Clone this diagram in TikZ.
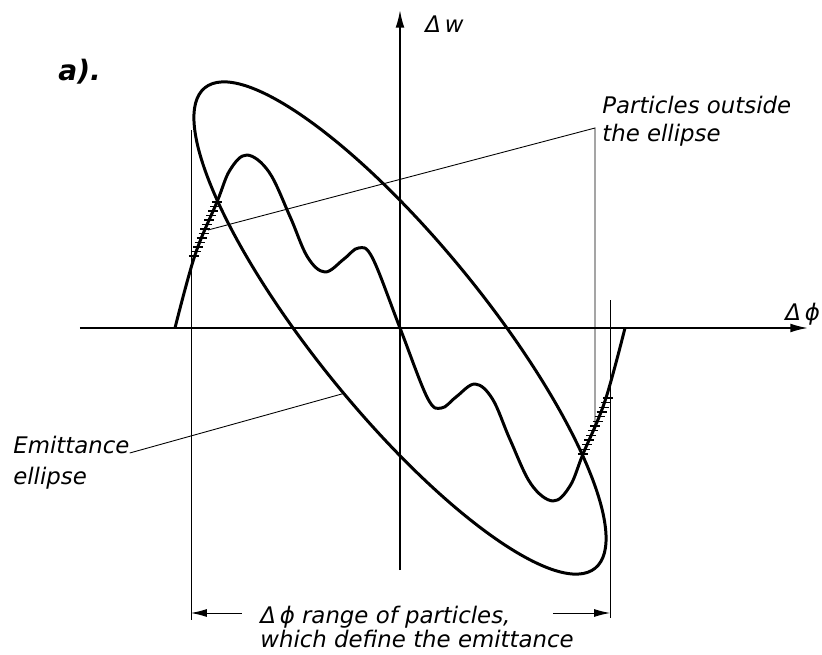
\documentclass[tikz,border=0pt]{standalone}
\usepackage{fontspec}
\setmainfont{DejaVu Sans}
\usepackage{tikz}
\usetikzlibrary{arrows.meta,calc}

\tikzset{
    lbl/.style={font=\fontsize{13}{16}\selectfont\itshape, inner sep=0pt, anchor=base west},
    axis/.style={line width=1pt, -{Latex[length=10pt,width=5pt]}},
    curve/.style={line width=1.7pt, line join=round},
    leader/.style={line width=0.5pt},
    guide/.style={line width=0.4pt},
    hatch/.style={line width=0.6pt},
    rangearrow/.style={line width=0.5pt, -{Latex[length=9pt,width=4.5pt]}},
}

\begin{document}
\begin{tikzpicture}
    \useasboundingbox (-8,-6.54) rectangle (8.44,6.56);

    % ================= AXES =================
    \draw[axis] (-6.4,0) -- (8.16,0);
    \draw[axis] (0,-4.84) -- (0,6.36);

    \node[lbl] (dphi) at (7.7,0.16) {Δ\,ϕ};
    \node[lbl] (dw) at (0.5,5.92) {Δ\,w};
    \node[lbl, font=\fontsize{16}{18}\selectfont\bfseries\itshape] (panel) at (-6.84,4.96) {a).};

    % ================= ELLIPSE AND PARTICLES =================
    \draw[curve, rotate=-50.9] (0,0) ellipse (6.19 and 1.70);

    \draw[curve] plot[smooth, tension=0.6] coordinates {
        (-4.5,0) (-4.1,1.46) (-3.66,2.52) (-3.4,3.16) (-3.06,3.46)
        (-2.62,3.12) (-2.2,2.23) (-1.85,1.42) (-1.5,1.12) (-1.12,1.38)
        (-0.83,1.6) (-0.55,1.4) (0,0)
        (0.55,-1.4) (0.83,-1.6) (1.12,-1.38) (1.5,-1.12) (1.85,-1.42)
        (2.2,-2.23) (2.62,-3.12) (3.06,-3.46) (3.4,-3.16)
        (3.66,-2.52) (4.1,-1.46) (4.5,0)};

    % hatching outside the ellipse
    \coordinate (hl1) at (-3.66,2.52);
    \coordinate (hl2) at (-4.12,1.44);
    \coordinate (hr1) at (3.66,-2.52);
    \coordinate (hr2) at (4.16,-1.40);
    \foreach \i in {0,...,12} {
        \draw[hatch] ($(hl1)!\i/12!(hl2)$) ++(-0.1,0) -- ++(0.2,0);
        \draw[hatch] ($(hr1)!\i/12!(hr2)$) ++(-0.1,0) -- ++(0.2,0);
    }

    % ================= LABELS =================
    \node[lbl] (part1) at (4.04,4.3) {Particles outside};
    \node[lbl] (part2) at (4.04,3.74) {the ellipse};
    \coordinate (pcorner) at (3.9,4.0);
    \coordinate (pleft) at (-3.84,1.96);
    \coordinate (pright) at (3.9,-2.04);
    \draw[leader] (pleft) -- (pcorner) -- (pright);

    \node[lbl] (emit1) at (-7.74,-2.5) {Emittance};
    \node[lbl] (emit2) at (-7.74,-3.12) {ellipse};
    \coordinate (eend) at (-1.13,-1.31);
    \draw[leader] (emit1.base east) -- (eend);

    % ================= RANGE =================
    \coordinate (rltop) at (-4.18,3.96);
    \coordinate (rlbot) at (-4.18,-5.84);
    \coordinate (rrtop) at (4.2,0.56);
    \coordinate (rrbot) at (4.2,-5.8);
    \draw[guide] (rltop) -- (rlbot);
    \draw[guide] (rrtop) -- (rrbot);

    \node[lbl] (range1) at (-2.8,-5.9) {Δ\,ϕ range of particles,};
    \node[lbl] (range2) at (-2.8,-6.38) {which define the emittance};
    \coordinate (rltail) at (-3.16,-5.7);
    \coordinate (rrtail) at (3.06,-5.7);
    \draw[rangearrow] (rltail) -- (rltail -| rlbot);
    \draw[rangearrow] (rrtail) -- (rrtail -| rrbot);
\end{tikzpicture}
\end{document}
